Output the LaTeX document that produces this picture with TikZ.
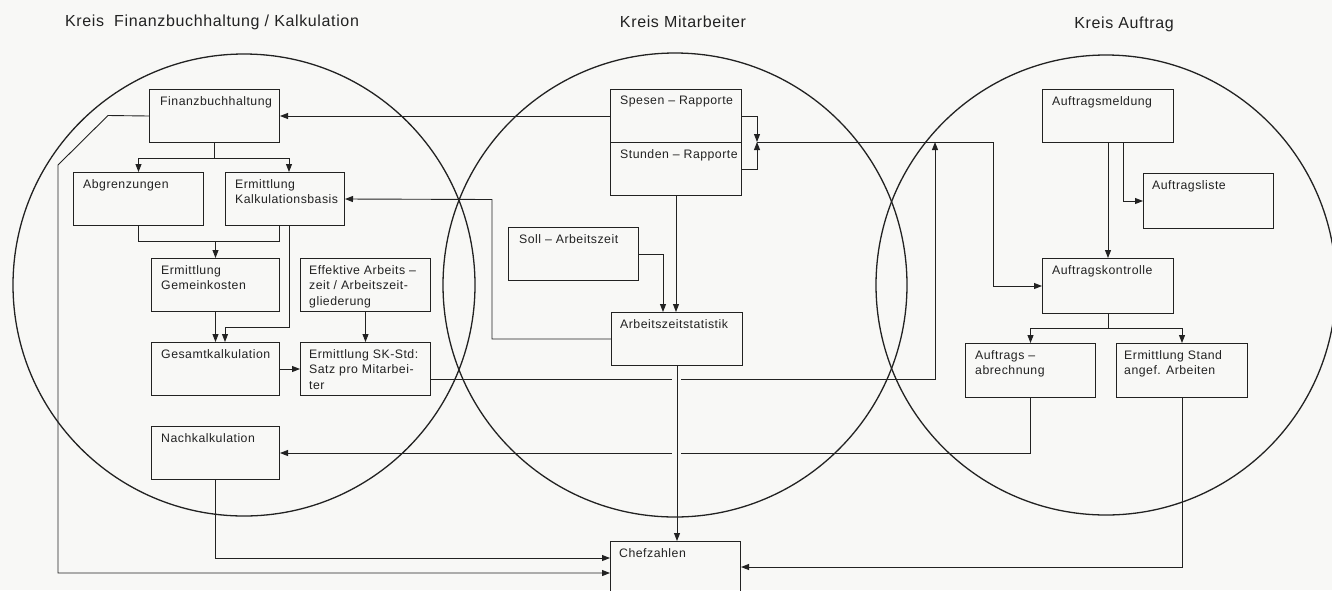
\documentclass[tikz,border=0pt]{standalone}
\usepackage{fontspec}
\setmainfont{Liberation Sans}[LetterSpace=4]
\usetikzlibrary{arrows.meta}
\definecolor{ink}{HTML}{222222}
\definecolor{paper}{HTML}{F8F8F6}
\tikzset{
  box/.style={draw=ink, line width=1pt, anchor=north west, minimum width=130pt, minimum height=53pt, inner sep=0pt},
  lbl/.style={anchor=north west, inner sep=0pt, align=left, font=\fontsize{12.3}{15.5}\selectfont, text=ink},
  arr/.style={draw=ink, line width=0.9pt, -{Triangle[length=8pt,width=6pt]}},
  con/.style={draw=ink, line width=0.9pt},
  ring/.style={draw=ink, line width=1.3pt},
  ttl/.style={font=\fontsize{16}{19}\selectfont, text=ink, inner sep=0pt},
}
\begin{document}
\begin{tikzpicture}[x=1pt,y=-1pt]
\fill[paper] (0,0) rectangle (1332,590);
\useasboundingbox (0,0) rectangle (1332,590);

% circles
\draw[ring] (244,285) circle[radius=231pt];
\draw[ring] (675,285) circle[radius=232pt];
\draw[ring] (1106,285) circle[radius=230pt];

% titles
\node[ttl] (t1) at (212,22) {Kreis\ \ Finanzbuchhaltung / Kalkulation};
\node[ttl] (t2) at (683,22) {Kreis Mitarbeiter};
\node[ttl] (t3) at (1124,24) {Kreis Auftrag};

% boxes
\node[box] (fb) at (149,89) {};
\node[box] (ab) at (73,172) {};
\node[box, minimum width=119pt] (kb) at (225,172) {};
\node[box, minimum width=128pt] (gk) at (151,258) {};
\node[box] (ea) at (300,258) {};
\node[box, minimum width=128pt] (gs) at (151,342) {};
\node[box] (sk) at (300,342) {};
\node[box, minimum width=128pt] (nk) at (151,426) {};
\node[box, minimum width=131pt] (sp) at (610,89) {};
\node[box, minimum width=131pt] (st) at (610,142) {};
\node[box] (so) at (508,227) {};
\node[box, minimum width=131pt] (az) at (611,312) {};
\node[box, minimum height=62pt] (cz) at (610,541) {};
\node[box, minimum width=131pt] (am) at (1042,89) {};
\node[box, minimum height=55pt] (al) at (1143,173) {};
\node[box, minimum width=131pt, minimum height=55pt] (ak) at (1042,258) {};
\node[box, minimum height=54pt] (aa) at (965,343) {};
\node[box, minimum width=131pt, minimum height=54pt] (es) at (1116,343) {};

% labels
\node[lbl] (fbl) at ([xshift=11pt,yshift=-7pt]fb.north west) {Finanzbuchhaltung};
\node[lbl] (abl) at ([xshift=10pt,yshift=-7pt]ab.north west) {Abgrenzungen};
\node[lbl] (kbl) at ([xshift=10pt,yshift=-7pt]kb.north west) {Ermittlung\\Kalkulationsbasis};
\node[lbl] (gkl) at ([xshift=10pt,yshift=-7pt]gk.north west) {Ermittlung\\Gemeinkosten};
\node[lbl] (eal) at ([xshift=9pt,yshift=-7pt]ea.north west) {Effektive Arbeits –\\zeit / Arbeitszeit-\\gliederung};
\node[lbl] (gsl) at ([xshift=10pt,yshift=-7pt]gs.north west) {Gesamtkalkulation};
\node[lbl] (skl) at ([xshift=9pt,yshift=-7pt]sk.north west) {Ermittlung SK-Std:\\Satz pro Mitarbei-\\ter};
\node[lbl] (nkl) at ([xshift=10pt,yshift=-7pt]nk.north west) {Nachkalkulation};
\node[lbl] (spl) at ([xshift=10pt,yshift=-7pt]sp.north west) {Spesen – Rapporte};
\node[lbl] (stl) at ([xshift=10pt,yshift=-7pt]st.north west) {Stunden – Rapporte};
\node[lbl] (sol) at ([xshift=11pt,yshift=-7pt]so.north west) {Soll – Arbeitszeit};
\node[lbl] (azl) at ([xshift=9pt,yshift=-7pt]az.north west) {Arbeitszeitstatistik};
\node[lbl] (czl) at ([xshift=9pt,yshift=-7pt]cz.north west) {Chefzahlen};
\node[lbl] (aml) at ([xshift=10pt,yshift=-7pt]am.north west) {Auftragsmeldung};
\node[lbl] (all) at ([xshift=9pt,yshift=-7pt]al.north west) {Auftragsliste};
\node[lbl] (akl) at ([xshift=10pt,yshift=-7pt]ak.north west) {Auftragskontrolle};
\node[lbl] (aal) at ([xshift=10pt,yshift=-7pt]aa.north west) {Auftrags –\\abrechnung};
\node[lbl] (esl) at ([xshift=8pt,yshift=-7pt]es.north west) {Ermittlung Stand\\angef. Arbeiten};

% junction coordinates
\coordinate (jr) at (757,142);
\coordinate (jk) at (935,142);

% connectors - Finanzbuchhaltung circle
\draw[arr] (sp.west) -- (fb.east);
\draw[arr] (fb.west) -- (108,115.5) -- (58,165) |- (cz.west |- 0,573);
\draw[arr] (fb.south) -- ++(0,15) -| (ab.north);
\draw[arr] (fb.south) -- ++(0,15) -| (kb.north -| 289,0);
\draw[con] (ab.south) -- ++(0,15) -| (kb.south -| 279,0);
\draw[arr] (gk.north |- 0,242) -- (gk.north);
\draw[arr] (kb.south -| 289,0) |- (225,327) -- (gs.north -| 225,0);
\draw[arr] (gk.south) -- (gs.north);
\draw[arr] (ea.south) -- (sk.north);
\draw[arr] (gs.east) -- (sk.west);
\draw[arr] (sk.east |- 0,379) -| (jk);
\draw[arr] (nk.south) |- (cz.west |- 0,558);

% Mitarbeiter circle
\draw[arr] (sp.east) -| (jr);
\draw[arr] (st.east) -| (jr);
\draw[arr] (jr) -- (993,142) |- (ak.west);
\draw[arr] (st.south) -- (st.south |- az.north);
\draw[arr] (so.east) -| (az.north -| 663,0);
\draw[arr] (az.west) -| (492,199.5) -- (kb.east);

% Auftrag circle
\draw[arr] (am.south) -- (ak.north);
\draw[arr] (am.south -| 1123,0) |- (al.west);
\draw[arr] (ak.south) -- ++(0,14) -| (aa.north);
\draw[arr] (ak.south) -- ++(0,14) -| (es.north);
\draw[arr] (aa.south) |- (nk.east);
\draw[arr] (es.south) |- (cz.east |- 0,567);

% crossing gaps, then the vertical to Chefzahlen
\fill[paper] (672,375) rectangle (681,383);
\fill[paper] (672,449) rectangle (681,458);
\draw[arr] (az.south) -- (az.south |- cz.north);
\end{tikzpicture}
\end{document}
